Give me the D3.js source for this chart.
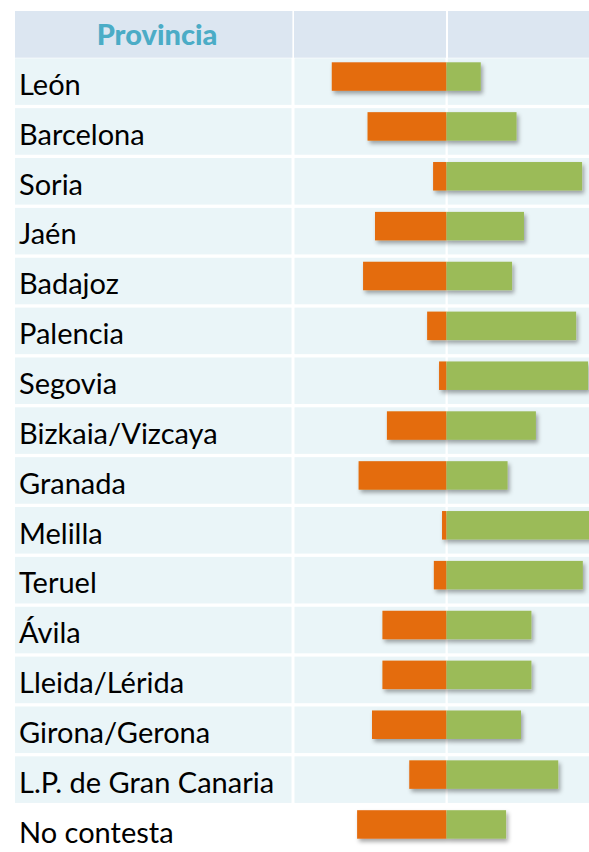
<!DOCTYPE html>
<html>
<head>
<meta charset="utf-8">
<script src="https://cdn.jsdelivr.net/npm/d3@7"></script>
<style>
  html, body { margin: 0; padding: 0; background: #fff; }
  svg { display: block; }
  .row-label { font-family: Lato, "Noto Sans", sans-serif; font-size: 29px; fill: #000; }
  .header-label { font-family: Lato, sans-serif; font-weight: 900; font-size: 29px; fill: #4bacc6; }
</style>
</head>
<body>
<div id="chart"></div>
<script>
// share of answers per province, in percent (left = orange, right = green)
const provinces = ["León", "Barcelona", "Soria", "Jaén", "Badajoz", "Palencia", "Segovia",
    "Bizkaia/Vizcaya", "Granada", "Melilla", "Teruel", "Ávila", "Lleida/Lérida",
    "Girona/Gerona", "L.P. de Gran Canaria", "No contesta"];
const negValues = [77, 53, 9, 48, 56, 13, 5, 40, 59, 3, 8.5, 43, 43, 50, 25, 60];
const posValues = [23, 47, 91, 52, 44, 87, 95, 60, 41, 97, 91.5, 57, 57, 50, 75, 40];

const W = 589, H = 852;
const ZERO = 446.5;
const PX_PER_PCT = 1.49;
const ROW_STEP = 49.86;

const svg = d3.select('#chart')
    .append('svg')
    .attr('width', W)
    .attr('height', H);

const defs = svg.append('defs');
const shadow = defs.append('filter')
    .attr('id', 'bar-shadow')
    .attr('x', '-10%').attr('y', '-20%')
    .attr('width', '130%').attr('height', '160%');
shadow.append('feDropShadow')
    .attr('dx', 2).attr('dy', 3)
    .attr('stdDeviation', 2)
    .attr('flood-color', '#000')
    .attr('flood-opacity', 0.35);

const x = d3.scaleLinear()
    .domain([-100, 100])
    .range([ZERO - 100 * PX_PER_PCT, ZERO + 100 * PX_PER_PCT]);

const y = d3.scaleBand()
    .domain(provinces)
    .range([58.3, 58.3 + ROW_STEP * (provinces.length - 0.066)])
    .paddingInner(0.066)
    .paddingOuter(0);

// table columns [left, right]
const columns = [[15, 291.5], [294.5, 445.5], [447.8, W]];
const headerCols = [[15, 292.4], [294, 446], [448, W]];

// header
svg.append('g')
    .selectAll('rect')
    .data(headerCols)
    .join('rect')
    .attr('x', (d) => d[0])
    .attr('y', 11)
    .attr('width', (d) => d[1] - d[0])
    .attr('height', 46.7)
    .attr('fill', '#dce6f1');

svg.append('text')
    .attr('class', 'header-label')
    .attr('x', 157)
    .attr('y', 44.5)
    .attr('text-anchor', 'middle')
    .text('Provincia');

// row backgrounds (last row has none)
const rows = svg.append('g')
    .selectAll('g')
    .data(provinces)
    .join('g')
    .attr('transform', (d) => `translate(0,${y(d)})`);

rows.filter((d, i) => i < provinces.length - 1)
    .selectAll('rect.cell')
    .data(columns)
    .join('rect')
    .attr('class', 'cell')
    .attr('x', (c) => c[0])
    .attr('width', (c) => c[1] - c[0])
    .attr('height', y.bandwidth())
    .attr('fill', '#eaf5f8');

rows.append('text')
    .attr('class', 'row-label')
    .attr('x', 19)
    .attr('y', 36.5)
    .text((d) => d);

// bars
const bars = svg.append('g').attr('filter', 'url(#bar-shadow)');
const barTop = (d) => y(d) + 4;
const barH = 28.5;

bars.selectAll('rect.neg')
    .data(provinces)
    .join('rect')
    .attr('class', 'neg')
    .attr('x', (d, i) => x(-negValues[i]))
    .attr('y', barTop)
    .attr('width', (d, i) => x(0) - x(-negValues[i]))
    .attr('height', barH)
    .attr('fill', '#e46c0a');

bars.selectAll('rect.pos')
    .data(provinces)
    .join('rect')
    .attr('class', 'pos')
    .attr('x', x(0))
    .attr('y', barTop)
    .attr('width', (d, i) => x(posValues[i]) - x(0))
    .attr('height', barH)
    .attr('fill', '#9bbb59');
</script>
</body>
</html>
